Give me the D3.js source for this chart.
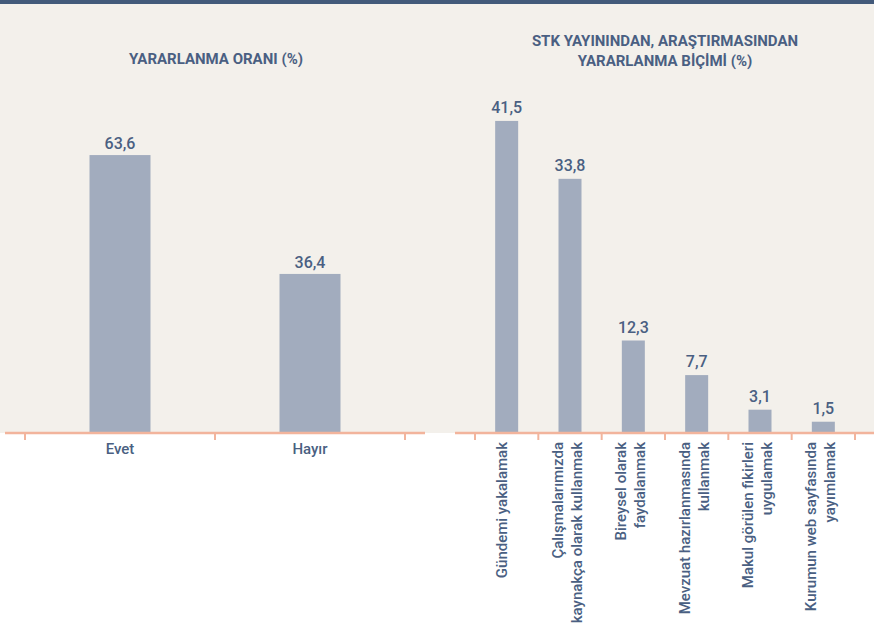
<!DOCTYPE html>
<html>
<head>
<meta charset="utf-8">
<script src="https://cdn.jsdelivr.net/npm/d3@7"></script>
<style>
  body { margin: 0; background: #ffffff; }
  svg text { font-family: "Roboto", "Liberation Sans", sans-serif; fill: #4a5f82; font-weight: 500; }
</style>
</head>
<body>
<svg id="chart" width="874" height="628"></svg>
<script>
// left chart data
const leftCategories = ["Evet", "Hayır"];
const leftValues = [63.6, 36.4];
const leftLabels = ["63,6", "36,4"];

// right chart data
const rightCategories = [
    ["Gündemi yakalamak"],
    ["Çalışmalarımızda", "kaynakça olarak kullanmak"],
    ["Bireysel olarak", "faydalanmak"],
    ["Mevzuat hazırlanmasında", "kullanmak"],
    ["Makul görülen fikirleri", "uygulamak"],
    ["Kurumun web sayfasında", "yayımlamak"]
];
const rightValues = [41.5, 33.8, 12.3, 7.7, 3.1, 1.5];
const rightLabels = ["41,5", "33,8", "12,3", "7,7", "3,1", "1,5"];

const svg = d3.select("#chart");
const baseY = 433;
const barColor = "#a2acbe";
const axisColor = "#f2b49c";

// background
svg.append("rect").attr("x", 0).attr("y", 0).attr("width", 874).attr("height", baseY)
    .style("fill", "#f3f0eb");
svg.append("rect").attr("x", 0).attr("y", 0).attr("width", 874).attr("height", 4)
    .style("fill", "#435a7a");

// ---- left chart
let xLeft = d3.scaleBand().domain(leftCategories).range([25, 405]);
let yLeft = d3.scaleLinear().domain([0, 100]).range([baseY, baseY - 437]);
let gl = svg.append("g");

gl.selectAll("rect.bar")
    .data(leftValues)
    .enter()
    .append("rect")
    .attr("class", "bar")
    .attr("x", (d, i) => xLeft(leftCategories[i]) + xLeft.bandwidth() / 2 - 30.5)
    .attr("y", d => yLeft(d))
    .attr("width", 61)
    .attr("height", d => baseY - yLeft(d))
    .style("fill", barColor);

gl.selectAll("text.val")
    .data(leftValues)
    .enter()
    .append("text")
    .attr("class", "val")
    .attr("x", (d, i) => xLeft(leftCategories[i]) + xLeft.bandwidth() / 2)
    .attr("y", d => yLeft(d) - 6)
    .attr("text-anchor", "middle")
    .style("font-size", "16px")
    .text((d, i) => leftLabels[i]);

gl.append("line")
    .attr("x1", 5).attr("x2", 425).attr("y1", baseY).attr("y2", baseY)
    .style("stroke", axisColor).style("stroke-width", 2.5);
// ticks at band edges
let leftTicks = leftCategories.map(c => xLeft(c)).concat([xLeft.range()[1]]);
gl.selectAll("line.tick")
    .data(leftTicks)
    .enter()
    .append("line")
    .attr("x1", d => d).attr("x2", d => d)
    .attr("y1", baseY).attr("y2", baseY + 7)
    .style("stroke", axisColor).style("stroke-width", 2);

gl.selectAll("text.cat")
    .data(leftCategories)
    .enter()
    .append("text")
    .attr("x", d => xLeft(d) + xLeft.bandwidth() / 2)
    .attr("y", 454)
    .attr("text-anchor", "middle")
    .style("font-size", "15px")
    .text(d => d);

gl.append("text")
    .attr("x", 216).attr("y", 64)
    .attr("text-anchor", "middle")
    .style("font-size", "15px").style("font-weight", "bold")
    .text("YARARLANMA ORANI (%)");

// ---- right chart
let xRight = d3.scaleBand().domain(d3.range(rightValues.length)).range([475, 855]);
let yRight = d3.scaleLinear().domain([0, 100]).range([baseY, baseY - 752]);
let gr = svg.append("g");

gr.selectAll("rect.bar")
    .data(rightValues)
    .enter()
    .append("rect")
    .attr("class", "bar")
    .attr("x", (d, i) => xRight(i) + xRight.bandwidth() / 2 - 11.5)
    .attr("y", d => yRight(d))
    .attr("width", 23)
    .attr("height", d => baseY - yRight(d))
    .style("fill", barColor);

gr.selectAll("text.val")
    .data(rightValues)
    .enter()
    .append("text")
    .attr("class", "val")
    .attr("x", (d, i) => xRight(i) + xRight.bandwidth() / 2)
    .attr("y", d => yRight(d) - 8)
    .attr("text-anchor", "middle")
    .style("font-size", "16px")
    .text((d, i) => rightLabels[i]);

gr.append("line")
    .attr("x1", 455).attr("x2", 874).attr("y1", baseY).attr("y2", baseY)
    .style("stroke", axisColor).style("stroke-width", 2.5);
let rightTicks = d3.range(rightValues.length).map(i => xRight(i)).concat([xRight.range()[1]]);
gr.selectAll("line.tick")
    .data(rightTicks)
    .enter()
    .append("line")
    .attr("x1", d => d).attr("x2", d => d)
    .attr("y1", baseY).attr("y2", baseY + 7)
    .style("stroke", axisColor).style("stroke-width", 2);

// rotated category labels
rightCategories.forEach(function (lines, i) {
    let cx = xRight(i) + xRight.bandwidth() / 2;
    let offset = lines.length == 1 ? 0 : -7;
    lines.forEach(function (line, j) {
        let bx = cx + offset + j * 19;
        gr.append("text")
            .attr("transform", "translate(" + bx + ",442) rotate(-90)")
            .attr("text-anchor", "end")
            .style("font-size", "15px")
            .text(line);
    });
});

gr.append("text")
    .attr("x", 665).attr("y", 46)
    .attr("text-anchor", "middle")
    .style("font-size", "15px").style("font-weight", "bold")
    .text("STK YAYININDAN, ARAŞTIRMASINDAN");
gr.append("text")
    .attr("x", 665).attr("y", 66)
    .attr("text-anchor", "middle")
    .style("font-size", "15px").style("font-weight", "bold")
    .text("YARARLANMA BİÇİMİ (%)");
</script>
</body>
</html>
